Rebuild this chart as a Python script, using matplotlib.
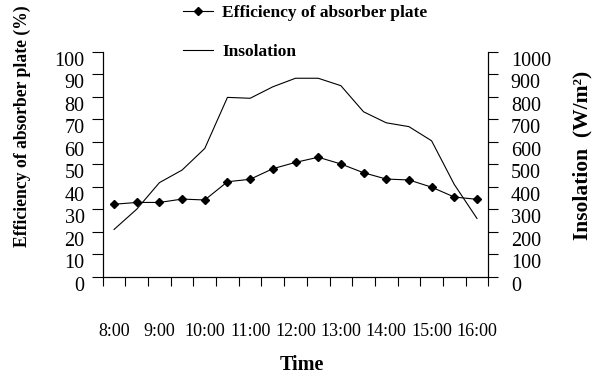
import matplotlib
matplotlib.use("Agg")
import matplotlib.pyplot as plt
from matplotlib.lines import Line2D
import numpy as np

plt.rcParams["font.family"] = ["Liberation Serif", "DejaVu Serif"]

# half-hourly readings, 8:00 to 16:00
times = ["8:00", "8:30", "9:00", "9:30", "10:00", "10:30", "11:00", "11:30",
         "12:00", "12:30", "13:00", "13:30", "14:00", "14:30", "15:00", "15:30", "16:00"]
efficiency = [32.2, 33.0, 33.0, 34.5, 34.1, 42.2, 43.3, 48.0, 50.8,
              53.1, 50.1, 46.2, 43.4, 43.0, 39.8, 35.4, 34.4]
insolation = [210, 300, 418, 474, 570, 797, 793, 844, 882,
              882, 849, 733, 684, 667, 604, 410, 259]
hour_labels = ["8:00", "9:00", "10:00", "11:00", "12:00", "13:00", "14:00", "15:00", "16:00"]

W, H = 599, 380
fig = plt.figure(figsize=(W / 100, H / 100), dpi=100)
ax = fig.add_axes([102.7 / W, 1 - 276.7 / H, 385.6 / W, 225 / H])
ax2 = ax.twinx()

x = np.arange(len(times))
ax.plot(x, efficiency, color="black", lw=0.8, marker="D", ms=4.2,
        mfc="black", mec="black", zorder=3)
ax2.plot(x, insolation, color="black", lw=0.8)

ax.set_xlim(-0.5, len(times) - 0.5)
ax.set_ylim(0, 100)
ax2.set_ylim(0, 1000)

for a in (ax, ax2):
    a.spines["top"].set_visible(False)
    a.patch.set_visible(False)
    for s in a.spines.values():
        s.set_linewidth(0.8)

# category boundaries get the tick marks, labels sit under every hour
ax.set_xticks(x[::2])
ax.set_xticklabels(hour_labels)
ax.set_xticks(np.arange(len(times) + 1) - 0.5, minor=True)
ax.tick_params(axis="x", which="major", length=0, pad=33, labelsize=13)
ax.tick_params(axis="x", which="minor", length=6.7, width=0.8, direction="out")

ax.set_yticks(np.arange(0, 101, 10))
ax.tick_params(axis="y", length=8, width=0.8, direction="out", pad=5, labelsize=14.5)
ax2.set_yticks(np.arange(0, 1001, 100))
ax2.tick_params(axis="y", length=7.2, width=0.8, direction="out", pad=9, labelsize=14.5)
for lbl in ax.get_yticklabels() + ax2.get_yticklabels():
    lbl.set_va("top")

handles = [
    Line2D([], [], color="black", lw=0.8, marker="D", ms=4.2),
    Line2D([], [], color="black", lw=0.8),
]
fig.legend(handles, ["Efficiency of absorber plate", "Insolation"],
           loc="upper left", bbox_to_anchor=(183 / W, 1 - 5 / H),
           frameon=False, borderpad=0, borderaxespad=0,
           handlelength=1.75, handletextpad=0.5, labelspacing=1.3,
           prop={"weight": "bold", "size": 12.5})

fig.text(22 / W, 1 - 126 / H, "Efficiency of absorber plate (%)", rotation=90,
         ha="center", va="center", fontsize=12.7, fontweight="bold")
fig.text(582 / W, 1 - 155 / H, "Insolation  (W/m²)", rotation=90,
         ha="center", va="center", fontsize=15.5, fontweight="bold")
fig.text(302 / W, 1 - 365 / H, "Time", ha="center", va="center",
         fontsize=14.5, fontweight="bold")

fig.savefig("out.png", dpi=100, facecolor="white")
